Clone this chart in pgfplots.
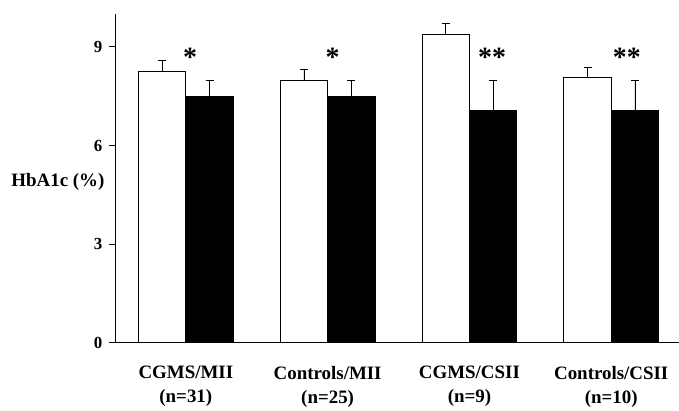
\documentclass[border=0pt]{standalone}
\usepackage{fontspec}
\setmainfont{Liberation Serif}
\usepackage{pgfplots}
\pgfplotsset{compat=1.18}
\newcommand{\tl}[1]{{\fontsize{17}{18}\selectfont\bfseries #1}}
\begin{document}
\begin{tikzpicture}
\begin{axis}[
  at={(0,0)}, anchor=south west,
  scale only axis, width=564bp, height=329bp,
  xmin=0.5, xmax=4.475, ymin=0, ymax=10,
  axis x line*=bottom, axis y line*=left,
  axis line style={line width=0.8bp, black},
  ytick={0,3,6,9},
  yticklabels={\tl{0},\tl{3},\tl{6},\tl{9}},
  tick style={line width=0.8bp, black},
  major tick length=6bp,
  tick align=outside,
  yticklabel style={xshift=-3bp},
  xtick={1,2,3,4},
  xticklabels={{CGMS/MII\\(n=31)},{Controls/MII\\(n=25)},{CGMS/CSII\\(n=9)},{Controls/CSII\\(n=10)}},
  xtick style={draw=none},
  xticklabel style={font=\fontsize{19}{24}\selectfont\bfseries, align=center, yshift=-14bp},
  extra x ticks={0.5,1.5,2.5,3.5},
  extra x tick labels={},
  extra x tick style={tick style={draw=black, line width=0.8bp}, major tick length=7bp},
  ylabel={HbA1c (\%)},
  ylabel style={rotate=-90, font=\fontsize{19}{22}\selectfont\bfseries, at={(axis description cs:0,0.488)}, anchor=east, xshift=-7bp},
  ybar, bar width=0.334,
  error bars/y dir=plus, error bars/y explicit,
  error bars/error bar style={line width=0.8bp, black},
  error bars/error mark options={rotate=90, mark size=4bp, line width=0.8bp, black},
]
\addplot[fill=white, draw=black, line width=0.8bp, bar shift=-0.167] coordinates {
  (1,8.25) +- (0,0.35)
  (2,7.98) +- (0,0.33)
  (3,9.38) +- (0,0.32)
  (4,8.08) +- (0,0.30)
};
\addplot[fill=black, draw=black, line width=0.8bp, bar shift=0.167] coordinates {
  (1,7.48) +- (0,0.50)
  (2,7.48) +- (0,0.50)
  (3,7.08) +- (0,0.90)
  (4,7.08) +- (0,0.90)
};
\node[anchor=base] at (axis cs:1.03,8.39) {\fontsize{28}{28}\selectfont\bfseries *};
\node[anchor=base] at (axis cs:2.035,8.39) {\fontsize{28}{28}\selectfont\bfseries *};
\node[anchor=base] at (axis cs:3.16,8.39) {\fontsize{28}{28}\selectfont\bfseries **};
\node[anchor=base] at (axis cs:4.11,8.39) {\fontsize{28}{28}\selectfont\bfseries **};
\end{axis}
\path[use as bounding box] (-115bp,-66bp) rectangle (564bp,343bp);
\end{tikzpicture}
\end{document}
